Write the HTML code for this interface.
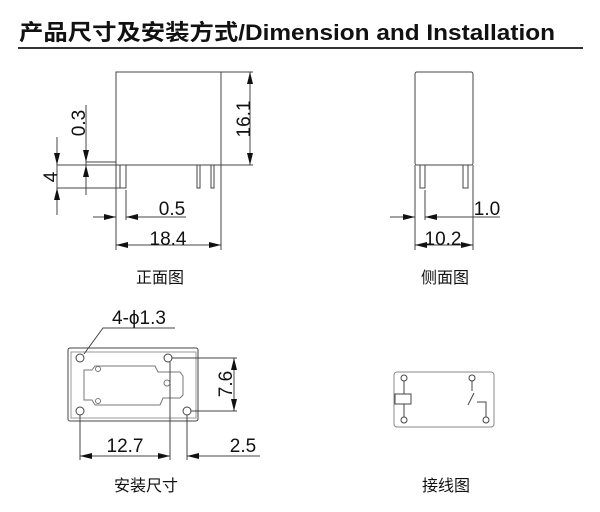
<!DOCTYPE html>
<html><head><style>
body{margin:0;background:#fff;width:600px;height:512px;overflow:hidden}
svg{display:block}
text{font-family:"Liberation Sans","Noto Sans CJK SC",sans-serif;fill:#111}
</style></head><body>
<svg width="600" height="512" viewBox="0 0 600 512">
<defs>
<marker id="a" viewBox="0 0 12 6" refX="12" refY="3" markerWidth="12" markerHeight="6" orient="auto" markerUnits="userSpaceOnUse"><path d="M0,0L12,3L0,6z" fill="#111"/></marker>
</defs>
<text x="19" y="40" font-size="22" font-weight="bold" textLength="536" lengthAdjust="spacingAndGlyphs">产品尺寸及安装方式/Dimension and  Installation</text>
<line x1="18" y1="48" x2="583" y2="48" stroke="#333" stroke-width="2"/>
<g stroke="#444" stroke-width="1" fill="none">
<!-- front -->
<rect x="116" y="72" width="105" height="93"/>
<path d="M120,165V188H126V165M197,165V188H200V165M211,165V188H214V165"/>
<path d="M221,72H253M221,165H253M86,162H116M57,165H116M57,188H120M86,105V195M57,137V215M116,165V250M221,165V250M126,190V220"/>
<line x1="250" y1="118" x2="250" y2="72" marker-end="url(#a)"/>
<line x1="250" y1="118" x2="250" y2="165" marker-end="url(#a)"/>
<line x1="86" y1="145" x2="86" y2="162" marker-end="url(#a)"/>
<line x1="86" y1="182" x2="86" y2="165" marker-end="url(#a)"/>
<line x1="57" y1="150" x2="57" y2="165" marker-end="url(#a)"/>
<line x1="57" y1="203" x2="57" y2="188" marker-end="url(#a)"/>
<line x1="93" y1="217" x2="116" y2="217" marker-end="url(#a)"/>
<line x1="186" y1="217" x2="126" y2="217" marker-end="url(#a)"/>
<line x1="168" y1="245" x2="116" y2="245" marker-end="url(#a)"/>
<line x1="168" y1="245" x2="221" y2="245" marker-end="url(#a)"/>
<!-- side -->
<rect x="415" y="72" width="58" height="93" rx="2"/>
<path d="M420,165V188H425V165M463,165V188H468V165"/>
<path d="M415,165V250M473,165V250M425,190V220"/>
<line x1="390" y1="217" x2="415" y2="217" marker-end="url(#a)"/>
<line x1="500" y1="217" x2="425" y2="217" marker-end="url(#a)"/>
<line x1="444" y1="245" x2="415" y2="245" marker-end="url(#a)"/>
<line x1="444" y1="245" x2="473" y2="245" marker-end="url(#a)"/>
<!-- bottom -->
<rect x="68" y="348" width="130" height="73" rx="2"/>
<rect x="71" y="352" width="125" height="66" stroke="#999"/>
<circle cx="80" cy="358" r="4"/><circle cx="168" cy="358" r="4"/>
<circle cx="80" cy="411" r="4"/><circle cx="187" cy="411" r="4"/>
<path d="M84,370H92L95,366H155L158,372H180L183,376V395L180,398H163L160,405H95L92,400H84Z" stroke="#777"/>
<circle cx="98" cy="369" r="2.5" stroke="#777"/><circle cx="98" cy="401" r="2.5" stroke="#777"/><circle cx="167" cy="383" r="3" stroke="#777"/>
<path d="M172,358H237M191,411H237M80,415V460M170,362V460M187,415V460M84,354L103,328H175"/>
<line x1="234" y1="385" x2="234" y2="358" marker-end="url(#a)"/>
<line x1="234" y1="385" x2="234" y2="411" marker-end="url(#a)"/>
<line x1="125" y1="456" x2="80" y2="456" marker-end="url(#a)"/>
<line x1="125" y1="456" x2="170" y2="456" marker-end="url(#a)"/>
<line x1="260" y1="456" x2="187" y2="456" marker-end="url(#a)"/>
<!-- schematic -->
<rect x="394" y="372" width="100" height="55" rx="3" stroke="#888"/>
<circle cx="404" cy="378" r="3"/><circle cx="404" cy="420" r="3"/>
<circle cx="472" cy="378" r="3"/><circle cx="486" cy="420" r="3"/>
<path d="M404,381V394M404,404V417M472,381V391M468,405L474,393M477,402H486V417"/>
<rect x="395" y="394" width="16" height="10"/>
</g>
<g font-size="19">
<text x="243" y="119" text-anchor="middle" transform="rotate(-90 243 119)" dy="7">16.1</text>
<text x="78" y="123" text-anchor="middle" transform="rotate(-90 78 123)" dy="7">0.3</text>
<text x="50" y="177" text-anchor="middle" transform="rotate(-90 50 177)" dy="7">4</text>
<text x="172" y="215" text-anchor="middle">0.5</text>
<text x="168" y="245" text-anchor="middle">18.4</text>
<text x="487" y="215" text-anchor="middle">1.0</text>
<text x="443" y="245" text-anchor="middle">10.2</text>
<text x="139" y="324" text-anchor="middle">4-ϕ1.3</text>
<text x="225" y="384" text-anchor="middle" transform="rotate(-90 225 384)" dy="7">7.6</text>
<text x="125" y="452" text-anchor="middle">12.7</text>
<text x="243" y="452" text-anchor="middle">2.5</text>
</g>
<g font-size="16">
<text x="160" y="283" text-anchor="middle">正面图</text>
<text x="445" y="283" text-anchor="middle">侧面图</text>
<text x="146" y="491" text-anchor="middle">安装尺寸</text>
<text x="446" y="491" text-anchor="middle">接线图</text>
</g>
</svg>
</body></html>
